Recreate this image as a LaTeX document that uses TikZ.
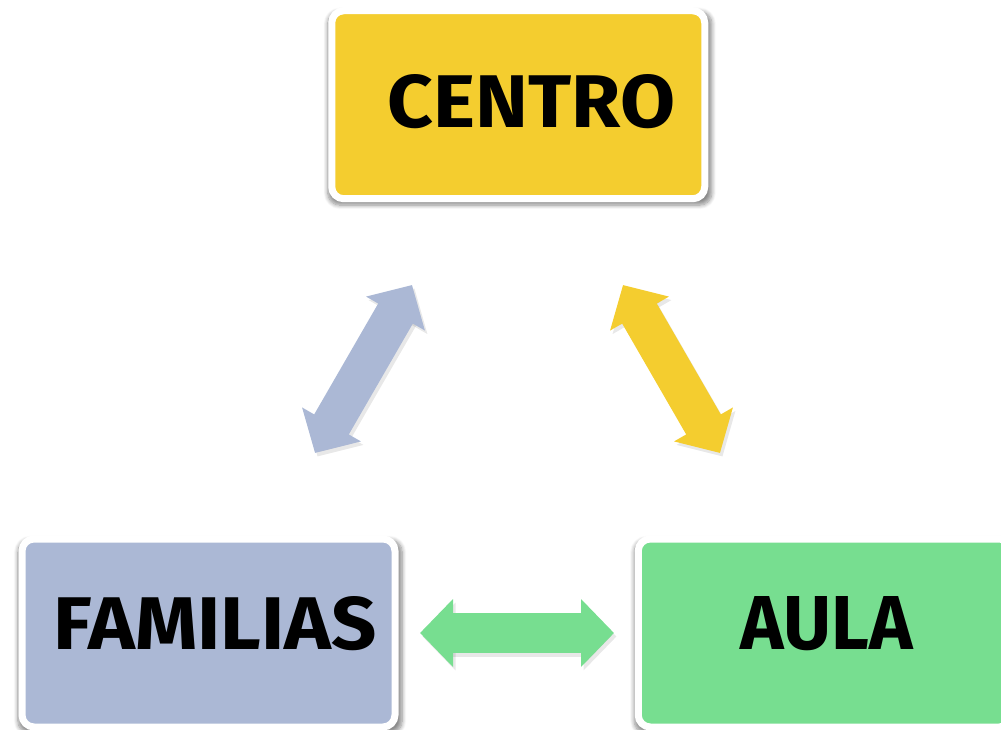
\documentclass[tikz,border=0pt]{standalone}
\usepackage{fontspec}
\setmainfont{Fira Sans}
\usepackage{graphicx}
\usetikzlibrary{arrows.meta,shadows,shadows.blur}
\definecolor{yellowC}{HTML}{F4CD2F}
\definecolor{blueC}{HTML}{ABB8D5}
\definecolor{greenC}{HTML}{77DE90}
\tikzset{
  boxstyle/.style={draw=white, line width=7pt, rounded corners=12pt, inner sep=0pt,
    minimum width=373pt, minimum height=188pt,
    blur shadow={shadow xshift=1.5pt, shadow yshift=-3.5pt, shadow blur radius=4pt,
      shadow blur steps=8, shadow opacity=45, shadow scale=1.03}},
  labelstyle/.style={inner sep=0pt, text=black},
  blockarrow/.style={line width=40pt,
    {Triangle[length=33pt,width=66pt]}-{Triangle[length=33pt,width=66pt]}},
  arrowshadow/.style={blockarrow, draw=black, opacity=0.09, transform canvas={xshift=2.5pt,yshift=-3.5pt}}
}
\begin{document}
\begin{tikzpicture}[x=1pt,y=-1pt]
\useasboundingbox (0,0) rectangle (1001,730);
% boxes
\node[boxstyle, fill=yellowC] (centro) at (518.25,104.75) {};
\node[boxstyle, fill=blueC] (familias) at (208.5,633) {};
\node[boxstyle, fill=greenC] (aula) at (824.75,633) {};
% labels
\node[labelstyle] (centroT) at (531.5,101.5) {\resizebox{287pt}{53pt}{\bfseries CENTRO}};
\node[labelstyle] (familiasT) at (215.5,623.5) {\resizebox{323pt}{53pt}{\bfseries FAMILIAS}};
\node[labelstyle] (aulaT) at (827,623.5) {\resizebox{172pt}{53pt}{\bfseries AULA}};
% arrow end points
\coordinate (bA) at (315,453);
\coordinate (bB) at (412,285);
\coordinate (yA) at (623,285);
\coordinate (yB) at (720,453);
\coordinate (gA) at (420,633);
\coordinate (gB) at (614,633);
% shadows
\draw[arrowshadow] (bA) -- (bB);
\draw[arrowshadow] (yA) -- (yB);
\draw[arrowshadow] (gA) -- (gB);
% arrows
\draw[blockarrow, draw=blueC, fill=blueC] (bA) -- (bB);
\draw[blockarrow, draw=yellowC, fill=yellowC] (yA) -- (yB);
\draw[blockarrow, draw=greenC, fill=greenC] (gA) -- (gB);
\end{tikzpicture}
\end{document}
